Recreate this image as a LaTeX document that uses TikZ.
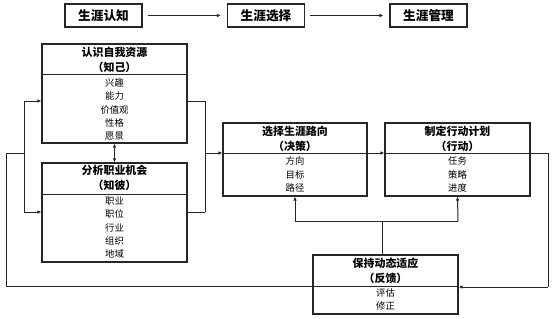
\documentclass[tikz,border=0pt]{standalone}
\usepackage{fontspec}
\newfontfamily\cjk{Noto Sans CJK SC}
\usetikzlibrary{arrows.meta,fit,calc}
\tikzset{
  box/.style={draw=black!85, line width=0.8pt, inner sep=0pt, fill=white},
  topbox/.style={draw=black!85, line width=0.8pt, minimum width=57.75pt, minimum height=17.25pt, inner sep=0pt, font=\cjk\bfseries\fontsize{9.5}{11}\selectfont},
  ttl/.style={align=center, inner sep=0pt, font=\cjk\bfseries\fontsize{8.2}{11.25}\selectfont},
  itm/.style={align=center, inner sep=0pt, font=\cjk\fontsize{7}{10}\selectfont},
  conn/.style={draw=black!85, line width=0.75pt},
  arr/.style={conn, -{Latex[length=3pt,width=2.6pt]}},
  darr/.style={conn, {Latex[length=3pt,width=2.6pt]}-{Latex[length=3pt,width=2.6pt]}},
  divl/.style={draw=black!85, line width=0.75pt}
}
\begin{document}
\begin{tikzpicture}[x=0.75pt,y=-0.75pt]
\useasboundingbox (0,0) rectangle (553,318);
\fill[white] (0,0) rectangle (553,318);

% top row
\node[topbox] (t1) at (103.5,15.5) {生涯认知};
\node[topbox] (t2) at (266,15.5) {生涯选择};
\node[topbox] (t3) at (428.5,15.5) {生涯管理};
\draw[arr, shorten <=3.75pt, shorten >=4.5pt] (t1) -- (t2);
\draw[arr, shorten <=3.75pt, shorten >=4.5pt] (t2) -- (t3);

% box corners
\coordinate (a1) at (42,44);  \coordinate (a2) at (187,143);
\coordinate (b1) at (42,163); \coordinate (b2) at (187,262);
\coordinate (d1) at (223,123); \coordinate (d2) at (367,196);
\coordinate (e1) at (385,123); \coordinate (e2) at (530,196);
\coordinate (c1) at (313,255); \coordinate (c2) at (458,314);

% connector coordinates
\coordinate (L1) at (24,101);
\coordinate (L2) at (24,212);
\coordinate (L3) at (24,153);
\coordinate (L4) at (6,153);
\coordinate (L5) at (6,286);
\coordinate (R1) at (205,101);
\coordinate (R2) at (205,212);
\coordinate (R3) at (205,153);
\coordinate (E1) at (548,153);
\coordinate (E2) at (548,287);
\coordinate (F1) at (382,221);
\coordinate (F2) at (295,221);
\coordinate (F3) at (458,221);

% connectors (drawn first, boxes on top)
\draw[conn] (L5) -- (L4) -- (L3);
\draw[conn] (L1) -- (L2);
\draw[conn] (R1) -- (R2);
\draw[conn] (F2) -- (F3);
\draw[conn] (E1) -- (E2);

% boxes
\node[box, fit=(a1)(a2)] (A) {};
\node[box, fit=(b1)(b2)] (B) {};
\node[box, fit=(d1)(d2)] (D) {};
\node[box, fit=(e1)(e2)] (E) {};
\node[box, fit=(c1)(c2)] (C) {};

% dividers
\draw[divl] (42,74) -- (187,74);
\draw[divl] (42,194) -- (187,194);
\draw[divl] (223,153) -- (367,153);
\draw[divl] (385,153) -- (530,153);
\draw[divl] (313,286) -- (458,286);

% texts
\node[ttl] (At) at (114.5,59.5) {认识自我资源\\（知己）};
\node[itm] (Ai) at (114.5,109.5) {兴趣\\能力\\价值观\\性格\\愿景};
\node[ttl] (Bt) at (114.5,178) {分析职业机会\\（知彼）};
\node[itm] (Bi) at (114.5,227.5) {职业\\职位\\行业\\组织\\地域};
\node[ttl] (Dt) at (295,138.5) {选择生涯路向\\（决策）};
\node[itm] (Di) at (295,174.5) {方向\\目标\\路径};
\node[ttl] (Et) at (457.5,138.5) {制定行动计划\\（行动）};
\node[itm] (Ei) at (457.5,174.5) {任务\\策略\\进度};
\node[ttl] (Ct) at (385.5,271) {保持动态适应\\（反馈）};
\node[itm] (Ci) at (385.5,299.5) {评估\\修正};

% connectors with arrows
\draw[darr] (A.south) -- (B.north);
\draw[conn] (C.west |- L5) -- (L5);
\draw[arr] (L1) -- (A.west |- L1);
\draw[arr] (L2) -- (B.west |- L2);
\draw[conn] (A.east |- R1) -- (R1);
\draw[conn] (B.east |- R2) -- (R2);
\draw[arr] (R3) -- (D.west |- R3);
\draw[arr] (D.east |- R3) -- (E.west |- R3);
\draw[conn] (E.east |- E1) -- (E1);
\draw[arr] (E2) -- (C.east |- E2);
\draw[conn] (C.north -| F1) -- (F1);
\draw[arr] (F2) -- (D.south);
\draw[arr] (F3) -- (E.south);
\end{tikzpicture}
\end{document}
